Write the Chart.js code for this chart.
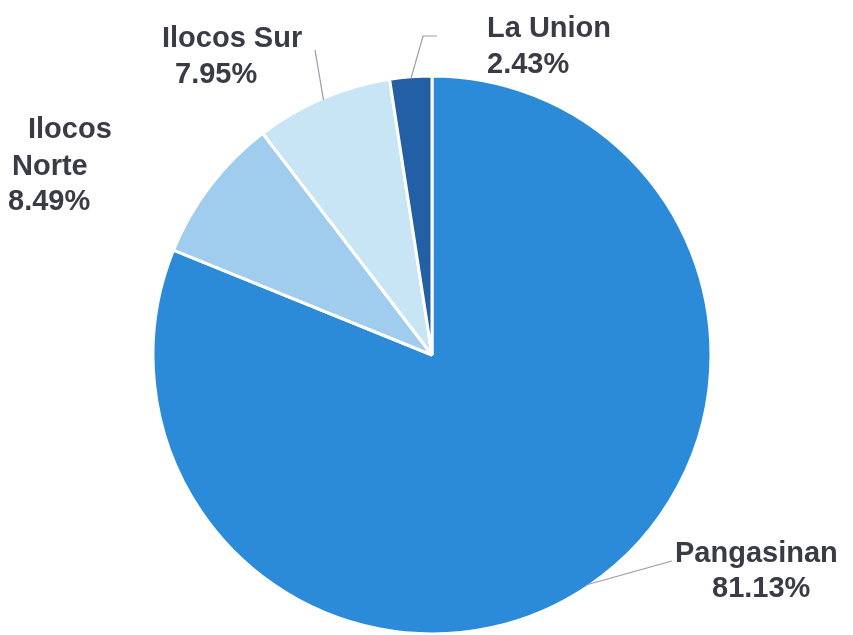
<!DOCTYPE html>
<html>
<head>
<meta charset="utf-8">
<style>
  html, body { margin: 0; padding: 0; background: #fff; }
  #wrap { width: 853px; height: 635px; position: relative; }
</style>
<script src="https://cdn.jsdelivr.net/npm/chart.js@4.4.1/dist/chart.umd.min.js"></script>
</head>
<body>
<div id="wrap"><canvas id="grafico" width="853" height="635"></canvas></div>
<script>
// dados do gráfico (sentido horário a partir do topo)
const provincias = ["Pangasinan", "Ilocos Norte", "Ilocos Sur", "La Union"];
const percentuais = [81.13, 8.49, 7.95, 2.43];
const cores = ["#2b8bd8", "#a0cdee", "#c8e5f5", "#235fa5"];

// posição dos rótulos (x, linha de base) e das linhas guia
const posRotulos = [
  { linhas: [[675, 562], [712, 597]], guia: [[672, 561]] },
  { linhas: [[28, 138], [12, 175], [8, 210]], quebra: true, guia: null },
  { linhas: [[162, 47], [175, 83]], guia: [[315, 50]] },
  { linhas: [[487, 37], [487, 73]], guia: [[423, 36], [437, 36]] }
];

const rotulosPlugin = {
  id: "rotulos",
  afterDatasetsDraw(chart) {
    const ctx = chart.ctx;
    const meta = chart.getDatasetMeta(0);
    ctx.save();
    meta.data.forEach((arc, i) => {
      const pos = posRotulos[i];
      // linha guia a partir da borda da fatia
      if (pos.guia) {
        const meio = (arc.startAngle + arc.endAngle) / 2;
        const r = arc.outerRadius - 2;
        ctx.beginPath();
        ctx.moveTo(arc.x + Math.cos(meio) * r, arc.y + Math.sin(meio) * r);
        pos.guia.forEach(p => ctx.lineTo(p[0], p[1]));
        ctx.strokeStyle = "#9a9aac";
        ctx.lineWidth = 1.2;
        ctx.stroke();
      }
      const nome = chart.data.labels[i];
      const valor = chart.data.datasets[0].data[i].toFixed(2) + "%";
      const textos = pos.quebra ? nome.split(" ").concat([valor]) : [nome, valor];
      ctx.font = "bold 29px 'Liberation Sans', Arial, sans-serif";
      ctx.fillStyle = "#3b3b46";
      ctx.textAlign = "left";
      ctx.textBaseline = "alphabetic";
      textos.forEach((t, j) => {
        ctx.fillText(t, pos.linhas[j][0], pos.linhas[j][1]);
      });
    });
    ctx.restore();
  }
};

new Chart(document.getElementById("grafico").getContext("2d"), {
  type: "pie",
  data: {
    labels: provincias,
    datasets: [{
      data: percentuais,
      backgroundColor: cores,
      borderColor: "#ffffff",
      borderWidth: 3
    }]
  },
  options: {
    responsive: false,
    animation: false,
    radius: 279,
    layout: { padding: { left: 11, right: 0, top: 75, bottom: 0 } },
    plugins: {
      legend: { display: false },
      tooltip: { enabled: false }
    }
  },
  plugins: [rotulosPlugin]
});
</script>
</body>
</html>
